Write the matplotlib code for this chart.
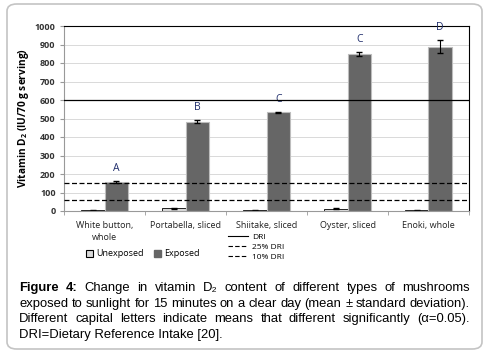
import numpy as np
import matplotlib
matplotlib.use("Agg")
import matplotlib.pyplot as plt
from matplotlib.patches import FancyBboxPatch, Patch
from matplotlib.lines import Line2D

plt.rcParams['font.family'] = ['Open Sans', 'DejaVu Sans']
plt.rcParams['mathtext.fontset'] = 'custom'
plt.rcParams['mathtext.rm'] = 'Open Sans'
plt.rcParams['mathtext.bf'] = 'Open Sans:bold'

# дані
categories = ["White button,\nwhole", "Portabella, sliced", "Shiitake, sliced", "Oyster, sliced", "Enoki, whole"]
unexposed = [3, 15, 3, 12, 3]
unexposed_err = [1, 2, 1, 2, 1]
exposed = [157, 482, 533, 848, 887]
exposed_err = [3, 9, 3, 10, 35]
letters = ["A", "B", "C", "C", "D"]
dri_levels = [600, 150, 60]
dri_labels = ["DRI", "25% DRI", "10% DRI"]

W, H = 487, 353
fig = plt.figure(figsize=(W / 100, H / 100), dpi=100)

# рамка навколо малюнка
frame = FancyBboxPatch((7 / W, 4 / H), 475 / W, 345 / H, boxstyle="round,pad=0,rounding_size=0.02",
                       transform=fig.transFigure, facecolor='white', edgecolor='#c4c4c4', lw=1.2, zorder=-5)
fig.patches.append(frame)

ax = fig.add_axes([64 / W, 1 - 211 / H, 405 / W, 185 / H])
ax.set_zorder(2)
x = np.arange(len(categories))
bw = 0.29
ax.bar(x - bw / 2, unexposed, bw, yerr=unexposed_err, color='#d9d9d9', edgecolor='black', lw=0.6,
       error_kw=dict(ecolor='black', elinewidth=0.8, capsize=2.5), zorder=2)
ax.bar(x + bw / 2, exposed, bw, yerr=exposed_err, color='#666666', edgecolor='#bdbdbd', lw=0.8,
       error_kw=dict(ecolor='black', elinewidth=0.8, capsize=2.5), zorder=2)

for xi, v, e, t in zip(x, exposed, exposed_err, letters):
    ax.annotate(t, (xi + bw / 2, v + e), xytext=(0, 5), textcoords='offset points',
                ha='center', va='bottom', fontsize=7.5, color='#1f2d6b')

styles = ['-', (0, (4, 2)), (0, (4, 2))]
for lvl, ls in zip(dri_levels, styles):
    ax.axhline(lvl, color='black', lw=0.9, ls=ls, zorder=3)

ax.set_xlim(-0.5, len(categories) - 0.5)
ax.set_ylim(0, 1000)
ax.set_yticks(np.arange(0, 1001, 100))
ax.yaxis.grid(True, color='#d9d9d9', lw=0.7, zorder=0)
ax.set_axisbelow(True)
ax.set_xticks(x)
ax.set_xticklabels(categories, fontsize=6.5, color='#222222', linespacing=1.5)
ax.set_xticks(np.arange(-0.5, len(categories), 1), minor=True)
ax.tick_params(axis='x', which='major', length=0, pad=7)
ax.tick_params(axis='x', which='minor', length=3, color='#999999')
ax.tick_params(axis='y', length=3, labelsize=6.5, color='#999999', pad=3)
for lab in ax.get_yticklabels():
    lab.set_fontweight('bold')
    lab.set_color('#333333')
for s in ['top', 'right']:
    ax.spines[s].set_color('black')
ax.spines['left'].set_color('#999999')
ax.spines['bottom'].set_color('#999999')
ax.set_ylabel("Vitamin D$_\\mathbf{2}$ (IU/70 g serving)", fontsize=7.3, fontweight='bold', labelpad=3)

# легенди
bar_handles = [Patch(facecolor='#d9d9d9', edgecolor='black', lw=0.8), Patch(facecolor='#666666', edgecolor='#666666')]
fig.legend(bar_handles, ["Unexposed", "Exposed"], loc='center left', bbox_to_anchor=(86 / W, 1 - 254 / H),
           ncol=2, frameon=False, fontsize=6.5, handlelength=0.8, handleheight=0.8, handletextpad=0.3,
           columnspacing=1.2, borderaxespad=0, borderpad=0)
line_handles = [Line2D([], [], color='black', lw=0.8, ls=s) for s in styles]
fig.legend(line_handles, dri_labels, loc='upper left', bbox_to_anchor=(228 / W, 1 - 233 / H),
           frameon=False, fontsize=6, handlelength=2.4, handletextpad=0.5, labelspacing=0.25,
           borderaxespad=0, borderpad=0)

# підпис з вирівнюванням по ширині
cap_font = dict(family=['Liberation Sans', 'DejaVu Sans'], fontsize=9.4, color='black')
lines = [
    ("Figure 4:  Change in vitamin D₂ content of different types of mushrooms", True),
    ("exposed to sunlight for 15 minutes on a clear day (mean ± standard deviation).", True),
    ("Different capital letters indicate means that different significantly (α=0.05).", True),
    ("DRI=Dietary Reference Intake [20].", False),
]
left, right = 19, 470
y0, dy = 291, 15.7
fig.canvas.draw()
renderer = fig.canvas.get_renderer()
for i, (line, justify) in enumerate(lines):
    ypx = H - (y0 + i * dy)
    if not justify:
        fig.text(left / W, ypx / H, line, va='baseline', ha='left', **cap_font)
        continue
    words = line.split()
    objs = []
    for j, w in enumerate(words):
        bold = i == 0 and j < 2
        t = fig.text(0, ypx / H, w, va='baseline', ha='left', fontweight='bold' if bold else 'normal', **cap_font)
        objs.append(t)
    widths = [t.get_window_extent(renderer).width for t in objs]
    gap = (right - left - sum(widths)) / (len(words) - 1)
    xp = left
    for t, w in zip(objs, widths):
        t.set_x(xp / W)
        xp += w + gap

fig.savefig("out.png", dpi=100)
